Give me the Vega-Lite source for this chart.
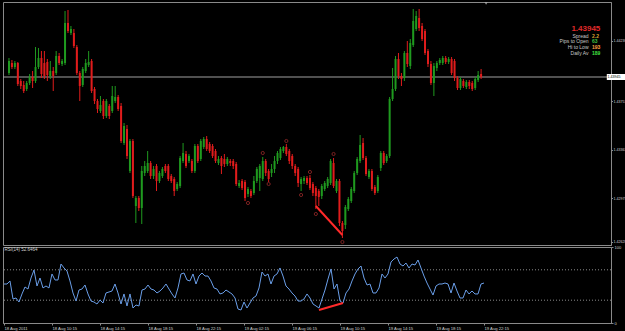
{
"$schema": "https://vega.github.io/schema/vega-lite/v6.json",
"background": "#000000",
"padding": {"left": 1, "top": 1, "right": 0, "bottom": 0},
"spacing": 2,
"bounds": "flush",
"config": {
  "view": {"stroke": "#8a8a8a", "strokeWidth": 1},
  "font": "Liberation Sans",
  "axis": {"labelFont": "Liberation Sans", "labelFontSize": 4.2, "labelColor": "#d0d0d0", "domainColor": "#8a8a8a", "tickColor": "#8a8a8a", "tickSize": 2, "grid": false, "title": null, "labelPadding": 1, "labelOverlap": false}
},
"datasets": {
"bars": [
{"i":0,"o":1.43977,"h":1.44097,"l":1.43961,"c":1.44073,"r":51.3},
{"i":1,"o":1.44057,"h":1.44081,"l":1.44009,"c":1.44025,"r":51.3},
{"i":2,"o":1.44025,"h":1.44073,"l":1.44009,"c":1.44057,"r":55.3},
{"i":3,"o":1.44057,"h":1.44065,"l":1.43873,"c":1.43889,"r":31.6},
{"i":4,"o":1.43913,"h":1.43929,"l":1.43849,"c":1.43873,"r":32.9},
{"i":5,"o":1.43881,"h":1.43913,"l":1.43817,"c":1.43833,"r":27.6},
{"i":6,"o":1.43849,"h":1.43913,"l":1.43833,"c":1.43897,"r":38.2},
{"i":7,"o":1.43897,"h":1.43969,"l":1.43881,"c":1.43945,"r":47.4},
{"i":8,"o":1.43945,"h":1.43993,"l":1.43857,"c":1.43913,"r":44.7},
{"i":9,"o":1.43913,"h":1.44185,"l":1.43897,"c":1.44025,"r":59.2},
{"i":10,"o":1.44025,"h":1.44177,"l":1.44009,"c":1.44097,"r":69.7},
{"i":11,"o":1.44097,"h":1.44153,"l":1.43937,"c":1.43969,"r":48.7},
{"i":12,"o":1.44057,"h":1.44153,"l":1.43929,"c":1.43953,"r":59.2},
{"i":13,"o":1.44065,"h":1.44089,"l":1.43913,"c":1.43961,"r":46.1},
{"i":14,"o":1.43953,"h":1.44073,"l":1.43929,"c":1.43993,"r":48.7},
{"i":15,"o":1.43993,"h":1.44025,"l":1.43833,"c":1.43953,"r":46.1},
{"i":16,"o":1.43977,"h":1.44153,"l":1.43961,"c":1.44113,"r":64.5},
{"i":17,"o":1.44113,"h":1.44137,"l":1.44041,"c":1.44057,"r":56.6},
{"i":18,"o":1.44049,"h":1.44089,"l":1.44033,"c":1.44073,"r":56.6},
{"i":19,"o":1.44057,"h":1.44473,"l":1.44041,"c":1.44377,"r":77.6},
{"i":20,"o":1.44377,"h":1.44481,"l":1.44297,"c":1.44313,"r":72.4},
{"i":21,"o":1.44297,"h":1.44353,"l":1.44281,"c":1.44329,"r":68.4},
{"i":22,"o":1.44297,"h":1.44329,"l":1.44177,"c":1.44193,"r":55.3},
{"i":23,"o":1.44185,"h":1.44201,"l":1.43961,"c":1.43977,"r":39.5},
{"i":24,"o":1.43977,"h":1.43993,"l":1.43753,"c":1.43873,"r":28.9},
{"i":25,"o":1.43881,"h":1.44025,"l":1.43865,"c":1.44009,"r":43.4},
{"i":26,"o":1.43993,"h":1.44089,"l":1.43977,"c":1.44057,"r":44.7},
{"i":27,"o":1.44041,"h":1.44153,"l":1.44025,"c":1.44065,"r":50.0},
{"i":28,"o":1.44073,"h":1.44089,"l":1.43817,"c":1.43833,"r":38.2},
{"i":29,"o":1.43849,"h":1.43865,"l":1.43729,"c":1.43753,"r":28.9},
{"i":30,"o":1.43753,"h":1.43769,"l":1.43657,"c":1.43689,"r":27.6},
{"i":31,"o":1.43673,"h":1.43793,"l":1.43657,"c":1.43721,"r":25.0},
{"i":32,"o":1.43753,"h":1.43769,"l":1.43609,"c":1.43633,"r":30.3},
{"i":33,"o":1.43633,"h":1.43769,"l":1.43617,"c":1.43753,"r":26.3},
{"i":34,"o":1.43713,"h":1.43729,"l":1.43609,"c":1.43633,"r":39.5},
{"i":35,"o":1.43673,"h":1.43873,"l":1.43657,"c":1.43793,"r":40.8},
{"i":36,"o":1.43753,"h":1.43873,"l":1.43737,"c":1.43785,"r":42.1},
{"i":37,"o":1.43785,"h":1.43801,"l":1.43673,"c":1.43689,"r":51.3},
{"i":38,"o":1.43713,"h":1.43737,"l":1.43417,"c":1.43433,"r":39.5},
{"i":39,"o":1.43417,"h":1.43577,"l":1.43401,"c":1.43553,"r":25.0},
{"i":40,"o":1.43529,"h":1.43561,"l":1.43289,"c":1.43313,"r":38.2},
{"i":41,"o":1.43193,"h":1.43449,"l":1.43177,"c":1.43433,"r":22.4},
{"i":42,"o":1.43433,"h":1.43449,"l":1.42977,"c":1.42993,"r":38.2},
{"i":43,"o":1.42913,"h":1.42993,"l":1.42777,"c":1.42977,"r":19.7},
{"i":44,"o":1.42977,"h":1.42993,"l":1.42873,"c":1.42897,"r":23.7},
{"i":45,"o":1.42897,"h":1.43233,"l":1.42769,"c":1.43193,"r":22.4},
{"i":46,"o":1.43177,"h":1.43273,"l":1.43153,"c":1.43233,"r":43.4},
{"i":47,"o":1.43193,"h":1.43353,"l":1.43177,"c":1.43257,"r":44.7},
{"i":48,"o":1.43257,"h":1.43273,"l":1.43129,"c":1.43153,"r":50.0},
{"i":49,"o":1.43153,"h":1.43233,"l":1.43129,"c":1.43209,"r":44.7},
{"i":50,"o":1.43233,"h":1.43249,"l":1.43033,"c":1.43113,"r":43.4},
{"i":51,"o":1.43113,"h":1.43193,"l":1.43097,"c":1.43177,"r":39.5},
{"i":52,"o":1.43153,"h":1.43225,"l":1.43137,"c":1.43209,"r":42.1},
{"i":53,"o":1.43233,"h":1.43249,"l":1.43177,"c":1.43193,"r":46.1},
{"i":54,"o":1.43233,"h":1.43249,"l":1.43113,"c":1.43129,"r":51.3},
{"i":55,"o":1.43153,"h":1.43169,"l":1.43097,"c":1.43113,"r":44.7},
{"i":56,"o":1.43129,"h":1.43145,"l":1.42993,"c":1.43033,"r":38.2},
{"i":57,"o":1.43049,"h":1.43105,"l":1.43033,"c":1.43089,"r":32.9},
{"i":58,"o":1.43073,"h":1.43313,"l":1.43057,"c":1.43297,"r":46.1},
{"i":59,"o":1.43273,"h":1.43417,"l":1.43257,"c":1.43337,"r":64.5},
{"i":60,"o":1.43329,"h":1.43353,"l":1.43217,"c":1.43233,"r":65.8},
{"i":61,"o":1.43273,"h":1.43329,"l":1.43257,"c":1.43313,"r":56.6},
{"i":62,"o":1.43273,"h":1.43289,"l":1.43177,"c":1.43193,"r":55.3},
{"i":63,"o":1.43193,"h":1.43409,"l":1.43177,"c":1.43393,"r":64.5},
{"i":64,"o":1.43393,"h":1.43409,"l":1.43257,"c":1.43273,"r":51.3},
{"i":65,"o":1.43289,"h":1.43449,"l":1.43273,"c":1.43433,"r":61.8},
{"i":66,"o":1.43385,"h":1.43465,"l":1.43369,"c":1.43449,"r":65.8},
{"i":67,"o":1.43449,"h":1.43473,"l":1.43353,"c":1.43369,"r":61.8},
{"i":68,"o":1.43409,"h":1.43425,"l":1.43337,"c":1.43353,"r":61.8},
{"i":69,"o":1.43393,"h":1.43409,"l":1.43297,"c":1.43313,"r":55.3},
{"i":70,"o":1.43353,"h":1.43369,"l":1.43257,"c":1.43273,"r":46.1},
{"i":71,"o":1.43257,"h":1.43313,"l":1.43241,"c":1.43289,"r":44.7},
{"i":72,"o":1.43297,"h":1.43313,"l":1.43169,"c":1.43233,"r":38.2},
{"i":73,"o":1.43289,"h":1.43329,"l":1.43225,"c":1.43249,"r":39.5},
{"i":74,"o":1.43249,"h":1.43305,"l":1.43233,"c":1.43289,"r":43.4},
{"i":75,"o":1.43273,"h":1.43289,"l":1.43233,"c":1.43257,"r":40.8},
{"i":76,"o":1.43273,"h":1.43289,"l":1.43209,"c":1.43233,"r":38.2},
{"i":77,"o":1.43249,"h":1.43265,"l":1.43073,"c":1.43089,"r":32.9},
{"i":78,"o":1.43073,"h":1.43121,"l":1.43057,"c":1.43097,"r":18.4},
{"i":79,"o":1.43113,"h":1.43129,"l":1.43041,"c":1.43057,"r":17.1},
{"i":80,"o":1.43105,"h":1.43121,"l":1.42953,"c":1.42977,"r":27.6},
{"i":81,"o":1.43009,"h":1.43065,"l":1.42985,"c":1.43049,"r":19.7},
{"i":82,"o":1.43033,"h":1.43049,"l":1.42977,"c":1.42993,"r":26.3},
{"i":83,"o":1.43017,"h":1.43153,"l":1.43001,"c":1.43113,"r":32.9},
{"i":84,"o":1.43113,"h":1.43225,"l":1.43097,"c":1.43209,"r":35.5},
{"i":85,"o":1.43137,"h":1.43249,"l":1.43033,"c":1.43233,"r":46.1},
{"i":86,"o":1.43129,"h":1.43305,"l":1.43113,"c":1.43273,"r":67.1},
{"i":87,"o":1.43273,"h":1.43289,"l":1.43153,"c":1.43177,"r":61.8},
{"i":88,"o":1.43193,"h":1.43209,"l":1.43105,"c":1.43129,"r":64.5},
{"i":89,"o":1.43177,"h":1.43249,"l":1.43145,"c":1.43209,"r":51.3},
{"i":90,"o":1.43209,"h":1.43313,"l":1.43177,"c":1.43273,"r":61.8},
{"i":91,"o":1.43273,"h":1.43353,"l":1.43249,"c":1.43337,"r":64.5},
{"i":92,"o":1.43297,"h":1.43385,"l":1.43281,"c":1.43369,"r":72.4},
{"i":93,"o":1.43353,"h":1.43393,"l":1.43337,"c":1.43385,"r":61.8},
{"i":94,"o":1.43385,"h":1.43409,"l":1.43313,"c":1.43329,"r":48.7},
{"i":95,"o":1.43353,"h":1.43369,"l":1.43249,"c":1.43273,"r":44.7},
{"i":96,"o":1.43313,"h":1.43329,"l":1.43209,"c":1.43233,"r":39.5},
{"i":97,"o":1.43233,"h":1.43249,"l":1.43153,"c":1.43177,"r":35.5},
{"i":98,"o":1.43209,"h":1.43225,"l":1.43065,"c":1.43097,"r":28.9},
{"i":99,"o":1.43089,"h":1.43145,"l":1.43033,"c":1.43129,"r":28.9},
{"i":100,"o":1.43113,"h":1.43153,"l":1.43089,"c":1.43137,"r":31.6},
{"i":101,"o":1.43137,"h":1.43153,"l":1.43081,"c":1.43097,"r":38.2},
{"i":102,"o":1.43137,"h":1.43161,"l":1.43041,"c":1.43057,"r":32.9},
{"i":103,"o":1.43089,"h":1.43105,"l":1.42993,"c":1.43017,"r":25.0},
{"i":104,"o":1.43057,"h":1.43073,"l":1.42889,"c":1.42993,"r":22.4},
{"i":105,"o":1.43033,"h":1.43049,"l":1.42913,"c":1.42985,"r":19.7},
{"i":106,"o":1.42993,"h":1.43089,"l":1.42969,"c":1.43073,"r":31.6},
{"i":107,"o":1.43049,"h":1.43113,"l":1.43033,"c":1.43097,"r":43.4},
{"i":108,"o":1.43073,"h":1.43145,"l":1.43057,"c":1.43129,"r":57.9},
{"i":109,"o":1.43097,"h":1.43289,"l":1.43081,"c":1.43273,"r":71.1},
{"i":110,"o":1.43257,"h":1.43297,"l":1.43057,"c":1.43073,"r":44.7},
{"i":111,"o":1.43033,"h":1.43129,"l":1.43017,"c":1.43113,"r":51.3},
{"i":112,"o":1.43113,"h":1.43129,"l":1.42753,"c":1.42777,"r":28.9},
{"i":113,"o":1.42777,"h":1.42793,"l":1.42657,"c":1.42713,"r":26.3},
{"i":114,"o":1.42761,"h":1.42921,"l":1.42729,"c":1.42905,"r":39.5},
{"i":115,"o":1.42889,"h":1.42985,"l":1.42873,"c":1.42969,"r":44.7},
{"i":116,"o":1.42953,"h":1.43065,"l":1.42937,"c":1.43049,"r":55.3},
{"i":117,"o":1.43033,"h":1.43193,"l":1.43017,"c":1.43177,"r":64.5},
{"i":118,"o":1.43177,"h":1.43305,"l":1.43161,"c":1.43289,"r":71.1},
{"i":119,"o":1.43273,"h":1.43481,"l":1.43257,"c":1.43401,"r":75.0},
{"i":120,"o":1.43417,"h":1.43457,"l":1.43281,"c":1.43297,"r":59.2},
{"i":121,"o":1.43297,"h":1.43313,"l":1.43153,"c":1.43169,"r":50.0},
{"i":122,"o":1.43145,"h":1.43209,"l":1.43129,"c":1.43193,"r":51.3},
{"i":123,"o":1.43193,"h":1.43209,"l":1.43033,"c":1.43049,"r":39.5},
{"i":124,"o":1.43065,"h":1.43081,"l":1.43001,"c":1.43017,"r":39.5},
{"i":125,"o":1.43033,"h":1.43161,"l":1.43017,"c":1.43145,"r":46.1},
{"i":126,"o":1.43217,"h":1.43353,"l":1.43193,"c":1.43337,"r":64.5},
{"i":127,"o":1.43337,"h":1.43353,"l":1.43241,"c":1.43257,"r":59.2},
{"i":128,"o":1.43273,"h":1.43329,"l":1.43257,"c":1.43313,"r":64.5},
{"i":129,"o":1.43313,"h":1.43785,"l":1.43297,"c":1.43769,"r":80.3},
{"i":130,"o":1.43769,"h":1.44017,"l":1.43753,"c":1.43849,"r":84.2},
{"i":131,"o":1.43849,"h":1.44113,"l":1.43833,"c":1.44089,"r":86.8},
{"i":132,"o":1.44089,"h":1.44137,"l":1.43929,"c":1.43953,"r":77.6},
{"i":133,"o":1.43953,"h":1.43977,"l":1.43873,"c":1.43929,"r":75.0},
{"i":134,"o":1.43937,"h":1.44153,"l":1.43913,"c":1.44137,"r":78.9},
{"i":135,"o":1.44137,"h":1.44233,"l":1.44025,"c":1.44049,"r":72.4},
{"i":136,"o":1.44033,"h":1.44249,"l":1.44009,"c":1.44217,"r":77.6},
{"i":137,"o":1.44201,"h":1.44489,"l":1.44185,"c":1.44393,"r":76.3},
{"i":138,"o":1.44329,"h":1.44473,"l":1.44313,"c":1.44433,"r":82.9},
{"i":139,"o":1.44417,"h":1.44489,"l":1.44313,"c":1.44337,"r":72.4},
{"i":140,"o":1.44353,"h":1.44377,"l":1.44233,"c":1.44249,"r":61.8},
{"i":141,"o":1.44313,"h":1.44329,"l":1.44121,"c":1.44137,"r":52.6},
{"i":142,"o":1.44153,"h":1.44169,"l":1.44025,"c":1.44049,"r":44.7},
{"i":143,"o":1.44049,"h":1.44073,"l":1.43881,"c":1.43897,"r":36.8},
{"i":144,"o":1.43897,"h":1.44057,"l":1.43793,"c":1.44033,"r":48.7},
{"i":145,"o":1.44017,"h":1.44073,"l":1.43993,"c":1.44057,"r":51.3},
{"i":146,"o":1.44057,"h":1.44097,"l":1.44041,"c":1.44081,"r":51.3},
{"i":147,"o":1.44057,"h":1.44113,"l":1.44041,"c":1.44097,"r":52.6},
{"i":148,"o":1.44097,"h":1.44113,"l":1.44049,"c":1.44065,"r":51.3},
{"i":149,"o":1.44065,"h":1.44105,"l":1.44049,"c":1.44089,"r":39.5},
{"i":150,"o":1.44089,"h":1.44105,"l":1.43961,"c":1.43977,"r":52.6},
{"i":151,"o":1.44073,"h":1.44089,"l":1.43913,"c":1.43937,"r":42.1},
{"i":152,"o":1.43937,"h":1.43953,"l":1.43841,"c":1.43857,"r":32.9},
{"i":153,"o":1.43857,"h":1.43945,"l":1.43841,"c":1.43929,"r":32.9},
{"i":154,"o":1.43913,"h":1.43929,"l":1.43857,"c":1.43873,"r":43.4},
{"i":155,"o":1.43865,"h":1.43921,"l":1.43849,"c":1.43905,"r":38.2},
{"i":156,"o":1.43905,"h":1.43921,"l":1.43849,"c":1.43873,"r":42.1},
{"i":157,"o":1.43897,"h":1.43913,"l":1.43833,"c":1.43849,"r":38.2},
{"i":158,"o":1.43857,"h":1.43945,"l":1.43841,"c":1.43929,"r":38.2},
{"i":159,"o":1.43921,"h":1.43993,"l":1.43905,"c":1.43961,"r":51.3},
{"i":160,"o":1.43969,"h":1.44009,"l":1.43929,"c":1.43945,"r":52.6}
],
"fractals": [
{"i":81,"p":1.42937},{"i":86,"p":1.43337},{"i":88,"p":1.43089},{"i":94,"p":1.43433},{"i":99,"p":1.43001},{"i":102,"p":1.43185},{"i":104,"p":1.42849},{"i":110,"p":1.43329},{"i":113,"p":1.42625}
]
},
"vconcat": [
{
  "width": 608, "height": 243,
  "layer": [
    {
      "data": {"values": [{"p": 1.43945}]},
      "mark": {"type": "rule", "color": "#a0a0a0", "strokeWidth": 1},
      "encoding": {
        "y": {"field": "p", "type": "quantitative", "scale": {"domain": [1.42601, 1.44545], "nice": false, "zero": false},
          "axis": {"orient": "right", "format": ".5f", "values": [1.44527,1.4443,1.44333,1.44236,1.44139,1.44042,1.43848,1.43751,1.43654,1.43557,1.4346,1.43363,1.43266,1.43169,1.43072,1.42975,1.42878,1.42781,1.42684,1.42628], "labelAlign": "left", "labelBaseline": "middle", "labelFontSize": 3.6, "tickSize": 1.5, "labelPadding": 0.5, "labelOverlap": false, "labelBound": false}}
      }
    },
    {
      "data": {"name": "bars"},
      "mark": {"type": "rule", "strokeWidth": 1},
      "encoding": {
        "x": {"field": "i", "type": "quantitative", "scale": {"domain": [-0.33, 202.33], "nice": false, "zero": false}, "axis": null},
        "y": {"field": "l", "type": "quantitative", "scale": {"domain": [1.42601, 1.44545], "nice": false, "zero": false}},
        "y2": {"field": "h"},
        "color": {"condition": {"test": "datum.c < datum.o", "value": "#e01c1c"}, "value": "#1f9a1f"}
      }
    },
    {
      "data": {"name": "bars"},
      "mark": {"type": "bar", "width": 2},
      "encoding": {
        "x": {"field": "i", "type": "quantitative", "scale": {"domain": [-0.33, 202.33], "nice": false, "zero": false}},
        "y": {"field": "o", "type": "quantitative", "scale": {"domain": [1.42601, 1.44545], "nice": false, "zero": false}},
        "y2": {"field": "c"},
        "color": {"condition": {"test": "datum.c < datum.o", "value": "#e01c1c"}, "value": "#1f9a1f"}
      }
    },
    {
      "data": {"name": "fractals"},
      "mark": {"type": "point", "shape": "circle", "size": 10, "filled": false, "color": "#b03030", "strokeWidth": 1},
      "encoding": {
        "x": {"field": "i", "type": "quantitative", "scale": {"domain": [-0.33, 202.33], "nice": false, "zero": false}},
        "y": {"field": "p", "type": "quantitative", "scale": {"domain": [1.42601, 1.44545], "nice": false, "zero": false}}
      }
    },
    {
      "data": {"values": [{"i": 104, "p": 1.42913}, {"i": 113, "p": 1.42681}]},
      "mark": {"type": "line", "color": "#ff2a2a", "strokeWidth": 2},
      "encoding": {
        "x": {"field": "i", "type": "quantitative", "scale": {"domain": [-0.33, 202.33], "nice": false, "zero": false}},
        "y": {"field": "p", "type": "quantitative", "scale": {"domain": [1.42601, 1.44545], "nice": false, "zero": false}}
      }
    },
    {
      "data": {"values": [{}]},
      "mark": {"type": "rect", "color": "#ffffff"},
      "encoding": {
        "x": {"datum": 202.6, "type": "quantitative", "scale": {"domain": [-0.33, 202.33], "nice": false, "zero": false}},
        "x2": {"datum": 210},
        "y": {"datum": 1.43969, "type": "quantitative", "scale": {"domain": [1.42601, 1.44545], "nice": false, "zero": false}},
        "y2": {"datum": 1.43921}
      }
    },
    {
      "data": {"values": [{"t": "1.43945"}]},
      "mark": {"type": "text", "align": "left", "baseline": "middle", "fontSize": 3.6, "color": "#000000"},
      "encoding": {
        "x": {"datum": 202.8, "type": "quantitative", "scale": {"domain": [-0.33, 202.33], "nice": false, "zero": false}},
        "y": {"datum": 1.43945, "type": "quantitative", "scale": {"domain": [1.42601, 1.44545], "nice": false, "zero": false}},
        "text": {"field": "t"}
      }
    },
    {
      "data": {"values": [{"t": "1.43945"}]},
      "mark": {"type": "text", "align": "right", "baseline": "middle", "fontSize": 8, "fontWeight": "bold", "color": "#e02a2a"},
      "encoding": {
        "x": {"datum": 200.4, "type": "quantitative", "scale": {"domain": [-0.33, 202.33], "nice": false, "zero": false}},
        "y": {"datum": 1.44329, "type": "quantitative", "scale": {"domain": [1.42601, 1.44545], "nice": false, "zero": false}},
        "text": {"field": "t"}
      }
    },
    {
      "data": {"values": [{"t": "Spread", "p": 1.44277}, {"t": "Pips to Open", "p": 1.44231}, {"t": "Hi to Low", "p": 1.44185}, {"t": "Daily Av", "p": 1.44139}]},
      "mark": {"type": "text", "align": "right", "baseline": "middle", "fontSize": 5, "color": "#c8c8c8"},
      "encoding": {
        "x": {"datum": 196.4, "type": "quantitative", "scale": {"domain": [-0.33, 202.33], "nice": false, "zero": false}},
        "y": {"field": "p", "type": "quantitative", "scale": {"domain": [1.42601, 1.44545], "nice": false, "zero": false}},
        "text": {"field": "t"}
      }
    },
    {
      "data": {"values": [{"t": "2.2", "p": 1.44277, "k": "a"}, {"t": "63", "p": 1.44231, "k": "b"}, {"t": "193", "p": 1.44185, "k": "c"}, {"t": "189", "p": 1.44139, "k": "d"}]},
      "mark": {"type": "text", "align": "left", "baseline": "middle", "fontSize": 5, "fontWeight": "bold"},
      "encoding": {
        "x": {"datum": 197.6, "type": "quantitative", "scale": {"domain": [-0.33, 202.33], "nice": false, "zero": false}},
        "y": {"field": "p", "type": "quantitative", "scale": {"domain": [1.42601, 1.44545], "nice": false, "zero": false}},
        "text": {"field": "t"},
        "color": {"field": "k", "type": "nominal", "scale": {"domain": ["a", "b", "c", "d"], "range": ["#d9a030", "#40c040", "#ffa040", "#40e040"]}, "legend": null}
      }
    },
    {
      "data": {"values": [{}]},
      "mark": {"type": "point", "shape": "triangle-down", "size": 10, "filled": true, "color": "#c0c0c0"},
      "encoding": {
        "x": {"datum": 161.7, "type": "quantitative", "scale": {"domain": [-0.33, 202.33], "nice": false, "zero": false}},
        "y": {"datum": 1.44533, "type": "quantitative", "scale": {"domain": [1.42601, 1.44545], "nice": false, "zero": false}}
      }
    }
  ]
},
{
  "width": 608, "height": 76,
  "layer": [
    {
      "data": {"values": [{"v": 70}, {"v": 30}]},
      "mark": {"type": "rule", "color": "#8a8a8a", "strokeWidth": 1, "strokeDash": [1, 2]},
      "encoding": {
        "y": {"field": "v", "type": "quantitative", "scale": {"domain": [0, 100], "nice": false},
          "axis": {"orient": "right", "values": [0, 30, 70, 100], "labelAlign": "left", "labelBaseline": "middle", "labelFontSize": 4, "labelOverlap": false}}
      }
    },
    {
      "data": {"name": "bars"},
      "mark": {"type": "line", "color": "#6a9ee8", "strokeWidth": 1},
      "encoding": {
        "x": {"field": "i", "type": "quantitative", "scale": {"domain": [-0.33, 202.33], "nice": false, "zero": false},
          "axis": {"orient": "bottom", "values": [0,8,16,24,32,40,48,56,64,72,80,88,96,104,112,120,128,136,144,152,160], "labelAlign": "left", "labelBaseline": "top", "labelFontSize": 4.2, "labelOverlap": false, "labelFlush": false,
            "labelExpr": "['18 Aug 2011','18 Aug 08:15','18 Aug 10:15','18 Aug 12:15','18 Aug 14:15','18 Aug 16:15','18 Aug 18:15','18 Aug 20:15','18 Aug 22:15','19 Aug 00:15','19 Aug 02:15','19 Aug 04:15','19 Aug 06:15','19 Aug 08:15','19 Aug 10:15','19 Aug 12:15','19 Aug 14:15','19 Aug 16:15','19 Aug 18:15','19 Aug 20:15','19 Aug 22:15'][round(datum.value/8)]"}},
        "y": {"field": "r", "type": "quantitative", "scale": {"domain": [0, 100], "nice": false}}
      }
    },
    {
      "data": {"values": [{"i": 105, "v": 17.1}, {"i": 113, "v": 26.3}]},
      "mark": {"type": "line", "color": "#ff2a2a", "strokeWidth": 2},
      "encoding": {
        "x": {"field": "i", "type": "quantitative", "scale": {"domain": [-0.33, 202.33], "nice": false, "zero": false}},
        "y": {"field": "v", "type": "quantitative", "scale": {"domain": [0, 100], "nice": false}}
      }
    },
    {
      "data": {"values": [{"t": "RSI(14) 52.6464"}]},
      "mark": {"type": "text", "align": "left", "baseline": "middle", "fontSize": 4.5, "color": "#d0d0d0"},
      "encoding": {
        "x": {"datum": 0.2, "type": "quantitative", "scale": {"domain": [-0.33, 202.33], "nice": false, "zero": false}},
        "y": {"datum": 96.5, "type": "quantitative", "scale": {"domain": [0, 100], "nice": false}},
        "text": {"field": "t"}
      }
    }
  ]
}
]
}
